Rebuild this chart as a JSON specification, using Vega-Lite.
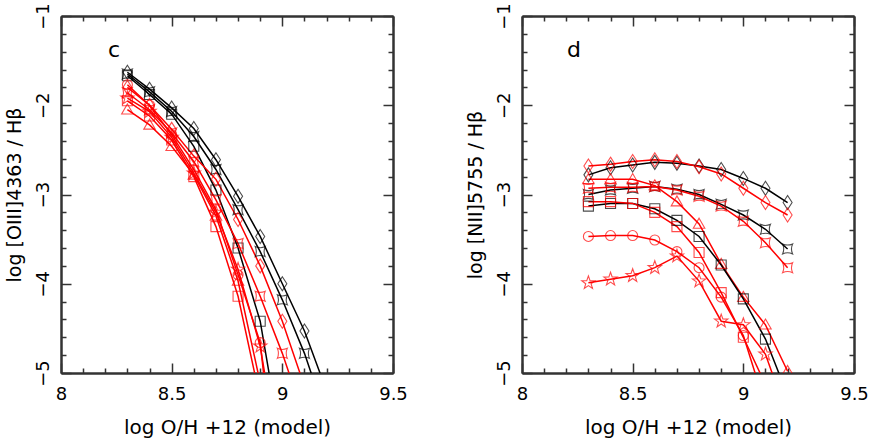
{
  "$schema": "https://vega.github.io/schema/vega-lite/v6.json",
  "padding": {"left": 5, "top": 2, "right": 5, "bottom": 3},
  "spacing": 58,
  "config": {
    "view": {"stroke": null},
    "font": "DejaVu Sans",
    "axis": {
      "labelFont": "DejaVu Sans", "titleFont": "DejaVu Sans",
      "labelFontSize": 18, "titleFontSize": 20, "titleFontWeight": "normal",
      "labelColor": "#000", "titleColor": "#000",
      "domainColor": "#333", "tickColor": "#333", "domainWidth": 2, "tickWidth": 1.5,
      "grid": false, "labelFlush": false, "labelOverlap": false, "labelBound": false
    }
  },
  "datasets": {
    "c": [
      {"s":"BD","x":8.3,"y":-1.63},{"s":"BD","x":8.4,"y":-1.82},{"s":"BD","x":8.5,"y":-2.03},{"s":"BD","x":8.6,"y":-2.26},{"s":"BD","x":8.7,"y":-2.61},{"s":"BD","x":8.8,"y":-3.02},{"s":"BD","x":8.9,"y":-3.47},{"s":"BD","x":9.0,"y":-4.0},{"s":"BD","x":9.1,"y":-4.53},{"s":"BD","x":9.2,"y":-5.2},
      {"s":"BH","x":8.3,"y":-1.65},{"s":"BH","x":8.4,"y":-1.85},{"s":"BH","x":8.5,"y":-2.07},{"s":"BH","x":8.6,"y":-2.35},{"s":"BH","x":8.7,"y":-2.72},{"s":"BH","x":8.8,"y":-3.17},{"s":"BH","x":8.9,"y":-3.64},{"s":"BH","x":9.0,"y":-4.18},{"s":"BH","x":9.1,"y":-4.78},{"s":"BH","x":9.2,"y":-5.51},
      {"s":"BS","x":8.3,"y":-1.67},{"s":"BS","x":8.4,"y":-1.88},{"s":"BS","x":8.5,"y":-2.1},{"s":"BS","x":8.6,"y":-2.46},{"s":"BS","x":8.7,"y":-2.95},{"s":"BS","x":8.8,"y":-3.6},{"s":"BS","x":8.9,"y":-4.42},{"s":"BS","x":9.0,"y":-5.87},
      {"s":"RD","x":8.3,"y":-1.8},{"s":"RD","x":8.4,"y":-2.0},{"s":"RD","x":8.5,"y":-2.27},{"s":"RD","x":8.6,"y":-2.57},{"s":"RD","x":8.7,"y":-2.83},{"s":"RD","x":8.8,"y":-3.28},{"s":"RD","x":8.9,"y":-3.8},{"s":"RD","x":9.0,"y":-4.42},{"s":"RD","x":9.1,"y":-5.15},
      {"s":"RH","x":8.3,"y":-1.86},{"s":"RH","x":8.4,"y":-2.05},{"s":"RH","x":8.5,"y":-2.31},{"s":"RH","x":8.6,"y":-2.63},{"s":"RH","x":8.7,"y":-3.06},{"s":"RH","x":8.8,"y":-3.55},{"s":"RH","x":8.9,"y":-4.14},{"s":"RH","x":9.0,"y":-4.78},{"s":"RH","x":9.1,"y":-5.51},
      {"s":"RC","x":8.3,"y":-1.77},{"s":"RC","x":8.4,"y":-2.0},{"s":"RC","x":8.5,"y":-2.33},{"s":"RC","x":8.6,"y":-2.72},{"s":"RC","x":8.7,"y":-3.17},{"s":"RC","x":8.8,"y":-3.9},{"s":"RC","x":8.9,"y":-4.66},{"s":"RC","x":9.0,"y":-6.9},
      {"s":"RX","x":8.3,"y":-1.92},{"s":"RX","x":8.4,"y":-2.07},{"s":"RX","x":8.5,"y":-2.36},{"s":"RX","x":8.6,"y":-2.76},{"s":"RX","x":8.7,"y":-3.2},{"s":"RX","x":8.8,"y":-3.84},{"s":"RX","x":8.9,"y":-4.7},{"s":"RX","x":9.0,"y":-6.2},
      {"s":"RS","x":8.3,"y":-1.95},{"s":"RS","x":8.4,"y":-2.12},{"s":"RS","x":8.5,"y":-2.39},{"s":"RS","x":8.6,"y":-2.8},{"s":"RS","x":8.7,"y":-3.36},{"s":"RS","x":8.8,"y":-4.14},{"s":"RS","x":8.9,"y":-5.29},
      {"s":"RT","x":8.3,"y":-2.05},{"s":"RT","x":8.4,"y":-2.22},{"s":"RT","x":8.5,"y":-2.46},{"s":"RT","x":8.6,"y":-2.78},{"s":"RT","x":8.7,"y":-3.24},{"s":"RT","x":8.8,"y":-3.97},{"s":"RT","x":8.9,"y":-5.11}
    ],
    "d": [
      {"s":"BD","x":8.3,"y":-2.78},{"s":"BD","x":8.4,"y":-2.7},{"s":"BD","x":8.5,"y":-2.67},{"s":"BD","x":8.6,"y":-2.64},{"s":"BD","x":8.7,"y":-2.65},{"s":"BD","x":8.8,"y":-2.68},{"s":"BD","x":8.9,"y":-2.72},{"s":"BD","x":9.0,"y":-2.82},{"s":"BD","x":9.1,"y":-2.93},{"s":"BD","x":9.2,"y":-3.09},
      {"s":"RD","x":8.3,"y":-2.68},{"s":"RD","x":8.4,"y":-2.66},{"s":"RD","x":8.5,"y":-2.63},{"s":"RD","x":8.6,"y":-2.61},{"s":"RD","x":8.7,"y":-2.63},{"s":"RD","x":8.8,"y":-2.69},{"s":"RD","x":8.9,"y":-2.77},{"s":"RD","x":9.0,"y":-2.93},{"s":"RD","x":9.1,"y":-3.09},{"s":"RD","x":9.2,"y":-3.23},
      {"s":"BH","x":8.3,"y":-3.0},{"s":"BH","x":8.4,"y":-2.95},{"s":"BH","x":8.5,"y":-2.93},{"s":"BH","x":8.6,"y":-2.91},{"s":"BH","x":8.7,"y":-2.94},{"s":"BH","x":8.8,"y":-3.0},{"s":"BH","x":8.9,"y":-3.11},{"s":"BH","x":9.0,"y":-3.23},{"s":"BH","x":9.1,"y":-3.39},{"s":"BH","x":9.2,"y":-3.61},
      {"s":"RH","x":8.3,"y":-2.93},{"s":"RH","x":8.4,"y":-2.92},{"s":"RH","x":8.5,"y":-2.92},{"s":"RH","x":8.6,"y":-2.91},{"s":"RH","x":8.7,"y":-2.95},{"s":"RH","x":8.8,"y":-3.02},{"s":"RH","x":8.9,"y":-3.13},{"s":"RH","x":9.0,"y":-3.3},{"s":"RH","x":9.1,"y":-3.54},{"s":"RH","x":9.2,"y":-3.82},
      {"s":"RT","x":8.3,"y":-2.83},{"s":"RT","x":8.4,"y":-2.83},{"s":"RT","x":8.5,"y":-2.83},{"s":"RT","x":8.6,"y":-2.9},{"s":"RT","x":8.7,"y":-3.08},{"s":"RT","x":8.8,"y":-3.33},{"s":"RT","x":8.9,"y":-3.78},{"s":"RT","x":9.0,"y":-4.15},{"s":"RT","x":9.1,"y":-4.46},{"s":"RT","x":9.2,"y":-4.98},
      {"s":"BS","x":8.3,"y":-3.13},{"s":"BS","x":8.4,"y":-3.1},{"s":"BS","x":8.5,"y":-3.1},{"s":"BS","x":8.6,"y":-3.16},{"s":"BS","x":8.7,"y":-3.29},{"s":"BS","x":8.8,"y":-3.47},{"s":"BS","x":8.9,"y":-3.79},{"s":"BS","x":9.0,"y":-4.17},{"s":"BS","x":9.1,"y":-4.62},{"s":"BS","x":9.2,"y":-5.25},
      {"s":"RS","x":8.3,"y":-3.08},{"s":"RS","x":8.4,"y":-3.08},{"s":"RS","x":8.5,"y":-3.1},{"s":"RS","x":8.6,"y":-3.2},{"s":"RS","x":8.7,"y":-3.36},{"s":"RS","x":8.8,"y":-3.65},{"s":"RS","x":8.9,"y":-4.1},{"s":"RS","x":9.0,"y":-4.6},{"s":"RS","x":9.1,"y":-5.13},
      {"s":"RC","x":8.3,"y":-3.47},{"s":"RC","x":8.4,"y":-3.46},{"s":"RC","x":8.5,"y":-3.46},{"s":"RC","x":8.6,"y":-3.51},{"s":"RC","x":8.7,"y":-3.64},{"s":"RC","x":8.8,"y":-3.82},{"s":"RC","x":8.9,"y":-4.15},{"s":"RC","x":9.0,"y":-4.58},{"s":"RC","x":9.1,"y":-5.37},
      {"s":"RX","x":8.3,"y":-3.99},{"s":"RX","x":8.4,"y":-3.95},{"s":"RX","x":8.5,"y":-3.91},{"s":"RX","x":8.6,"y":-3.82},{"s":"RX","x":8.7,"y":-3.69},{"s":"RX","x":8.8,"y":-3.97},{"s":"RX","x":8.9,"y":-4.42},{"s":"RX","x":9.0,"y":-4.46},{"s":"RX","x":9.1,"y":-4.79},{"s":"RX","x":9.2,"y":-5.49}
    ]
  },
  "hconcat": [
    {
      "width": 332, "height": 357,
      "data": {"name": "c"},
      "resolve": {"axis": {"x": "independent", "y": "independent"}},
      "layer": [
        {
          "mark": {"type": "line", "clip": true, "strokeWidth": 1.5},
          "encoding": {
            "x": {"field": "x", "type": "quantitative",
              "scale": {"domain": [8, 9.5], "nice": false, "zero": false},
              "axis": {"orient": "bottom", "title": "log O/H +12 (model)", "format": "~g",
                "values": [8, 8.5, 9, 9.5], "tickSize": -10, "labelPadding": 22, "titlePadding": 14}},
            "y": {"field": "y", "type": "quantitative",
              "scale": {"domain": [-5, -1], "nice": false, "zero": false},
              "axis": {"orient": "left", "title": "log [OIII]4363 / Hβ", "format": "~g", "titleFontSize": 19,
                "values": [-5, -4, -3, -2, -1], "tickSize": -10,
                "labelAngle": -90, "labelAlign": "center", "labelBaseline": "alphabetic",
                "labelPadding": 23, "titlePadding": 10}},
            "color": {"field": "s", "type": "nominal", "legend": null,
              "scale": {"domain": ["BD","BH","BS","RD","RH","RS","RT","RC","RX"],
                "range": ["#000000","#000000","#000000","#ff0000","#ff0000","#ff0000","#ff0000","#ff0000","#ff0000"]}},
            "detail": {"field": "s"}
          }
        },
        {
          "mark": {"type": "point", "clip": true, "filled": false, "size": 100, "strokeWidth": 1.1},
          "encoding": {
            "x": {"field": "x", "type": "quantitative",
              "scale": {"domain": [8, 9.5], "nice": false, "zero": false},
              "axis": {"orient": "bottom", "title": null, "labels": false, "tickSize": -5,
                "values": [8.1,8.2,8.3,8.4,8.6,8.7,8.8,8.9,9.1,9.2,9.3,9.4]}},
            "y": {"field": "y", "type": "quantitative",
              "scale": {"domain": [-5, -1], "nice": false, "zero": false},
              "axis": {"orient": "left", "title": null, "labels": false, "tickSize": -5,
                "values": [-4.8,-4.6,-4.4,-4.2,-3.8,-3.6,-3.4,-3.2,-2.8,-2.6,-2.4,-2.2,-1.8,-1.6,-1.4,-1.2]}},
            "color": {"field": "s", "type": "nominal", "legend": null,
              "scale": {"domain": ["BD","BH","BS","RD","RH","RS","RT","RC","RX"],
                "range": ["#000000","#000000","#000000","#ff0000","#ff0000","#ff0000","#ff0000","#ff0000","#ff0000"]}},
            "shape": {"field": "s", "type": "nominal", "legend": null,
              "scale": {"domain": ["BD","BH","BS","RD","RH","RS","RT","RC","RX"],
                "range": ["M0,-1.4L0.9,0L0,1.4L-0.9,0Z","M-1,-1Q0,-0.55 1,-1Q0.55,0 1,1Q0,0.55 -1,1Q-0.55,0 -1,-1Z","square","M0,-1.4L0.9,0L0,1.4L-0.9,0Z","M-1,-1Q0,-0.55 1,-1Q0.55,0 1,1Q0,0.55 -1,1Q-0.55,0 -1,-1Z","square","M0,-1.15L1.15,0.85L-1.15,0.85Z","circle","M0,-1.4L0.33,-0.45L1.33,-0.43L0.53,0.17L0.82,1.13L0,0.56L-0.82,1.13L-0.53,0.17L-1.33,-0.43L-0.33,-0.45Z"]}}
          }
        },
        {
          "data": {"values": [{"x": 8.24, "y": -1.38, "t": "c"}]},
          "mark": {"type": "text", "fontSize": 22, "font": "DejaVu Sans", "color": "#000"},
          "encoding": {
            "x": {"field": "x", "type": "quantitative", "scale": {"domain": [8, 9.5], "nice": false, "zero": false},
              "axis": {"orient": "top", "title": null, "labels": false, "tickSize": -10, "values": [8, 8.5, 9, 9.5]}},
            "y": {"field": "y", "type": "quantitative", "scale": {"domain": [-5, -1], "nice": false, "zero": false},
              "axis": {"orient": "right", "title": null, "labels": false, "tickSize": -10, "values": [-5, -4, -3, -2, -1]}},
            "text": {"field": "t"}
          }
        },
        {
          "data": {"values": [{"x": 8.24, "y": -1.38, "t": "c"}]},
          "mark": {"type": "point", "opacity": 0},
          "encoding": {
            "x": {"field": "x", "type": "quantitative", "scale": {"domain": [8, 9.5], "nice": false, "zero": false},
              "axis": {"orient": "top", "title": null, "labels": false, "tickSize": -5,
                "values": [8.1,8.2,8.3,8.4,8.6,8.7,8.8,8.9,9.1,9.2,9.3,9.4]}},
            "y": {"field": "y", "type": "quantitative", "scale": {"domain": [-5, -1], "nice": false, "zero": false},
              "axis": {"orient": "right", "title": null, "labels": false, "tickSize": -5,
                "values": [-4.8,-4.6,-4.4,-4.2,-3.8,-3.6,-3.4,-3.2,-2.8,-2.6,-2.4,-2.2,-1.8,-1.6,-1.4,-1.2]}}
          }
        }
      ]
    },
    {
      "width": 332, "height": 357,
      "data": {"name": "d"},
      "resolve": {"axis": {"x": "independent", "y": "independent"}},
      "layer": [
        {
          "mark": {"type": "line", "clip": true, "strokeWidth": 1.5},
          "encoding": {
            "x": {"field": "x", "type": "quantitative",
              "scale": {"domain": [8, 9.5], "nice": false, "zero": false},
              "axis": {"orient": "bottom", "title": "log O/H +12 (model)", "format": "~g",
                "values": [8, 8.5, 9, 9.5], "tickSize": -10, "labelPadding": 22, "titlePadding": 14}},
            "y": {"field": "y", "type": "quantitative",
              "scale": {"domain": [-5, -1], "nice": false, "zero": false},
              "axis": {"orient": "left", "title": "log [NII]5755 / Hβ", "format": "~g", "titleFontSize": 19,
                "values": [-5, -4, -3, -2, -1], "tickSize": -10,
                "labelAngle": -90, "labelAlign": "center", "labelBaseline": "alphabetic",
                "labelPadding": 23, "titlePadding": 10}},
            "color": {"field": "s", "type": "nominal", "legend": null,
              "scale": {"domain": ["BD","BH","BS","RD","RH","RS","RT","RC","RX"],
                "range": ["#000000","#000000","#000000","#ff0000","#ff0000","#ff0000","#ff0000","#ff0000","#ff0000"]}},
            "detail": {"field": "s"}
          }
        },
        {
          "mark": {"type": "point", "clip": true, "filled": false, "size": 100, "strokeWidth": 1.1},
          "encoding": {
            "x": {"field": "x", "type": "quantitative",
              "scale": {"domain": [8, 9.5], "nice": false, "zero": false},
              "axis": {"orient": "bottom", "title": null, "labels": false, "tickSize": -5,
                "values": [8.1,8.2,8.3,8.4,8.6,8.7,8.8,8.9,9.1,9.2,9.3,9.4]}},
            "y": {"field": "y", "type": "quantitative",
              "scale": {"domain": [-5, -1], "nice": false, "zero": false},
              "axis": {"orient": "left", "title": null, "labels": false, "tickSize": -5,
                "values": [-4.8,-4.6,-4.4,-4.2,-3.8,-3.6,-3.4,-3.2,-2.8,-2.6,-2.4,-2.2,-1.8,-1.6,-1.4,-1.2]}},
            "color": {"field": "s", "type": "nominal", "legend": null,
              "scale": {"domain": ["BD","BH","BS","RD","RH","RS","RT","RC","RX"],
                "range": ["#000000","#000000","#000000","#ff0000","#ff0000","#ff0000","#ff0000","#ff0000","#ff0000"]}},
            "shape": {"field": "s", "type": "nominal", "legend": null,
              "scale": {"domain": ["BD","BH","BS","RD","RH","RS","RT","RC","RX"],
                "range": ["M0,-1.4L0.9,0L0,1.4L-0.9,0Z","M-1,-1Q0,-0.55 1,-1Q0.55,0 1,1Q0,0.55 -1,1Q-0.55,0 -1,-1Z","square","M0,-1.4L0.9,0L0,1.4L-0.9,0Z","M-1,-1Q0,-0.55 1,-1Q0.55,0 1,1Q0,0.55 -1,1Q-0.55,0 -1,-1Z","square","M0,-1.15L1.15,0.85L-1.15,0.85Z","circle","M0,-1.4L0.33,-0.45L1.33,-0.43L0.53,0.17L0.82,1.13L0,0.56L-0.82,1.13L-0.53,0.17L-1.33,-0.43L-0.33,-0.45Z"]}}
          }
        },
        {
          "data": {"values": [{"x": 8.235, "y": -1.38, "t": "d"}]},
          "mark": {"type": "text", "fontSize": 22, "font": "DejaVu Sans", "color": "#000"},
          "encoding": {
            "x": {"field": "x", "type": "quantitative", "scale": {"domain": [8, 9.5], "nice": false, "zero": false},
              "axis": {"orient": "top", "title": null, "labels": false, "tickSize": -10, "values": [8, 8.5, 9, 9.5]}},
            "y": {"field": "y", "type": "quantitative", "scale": {"domain": [-5, -1], "nice": false, "zero": false},
              "axis": {"orient": "right", "title": null, "labels": false, "tickSize": -10, "values": [-5, -4, -3, -2, -1]}},
            "text": {"field": "t"}
          }
        },
        {
          "data": {"values": [{"x": 8.235, "y": -1.38, "t": "d"}]},
          "mark": {"type": "point", "opacity": 0},
          "encoding": {
            "x": {"field": "x", "type": "quantitative", "scale": {"domain": [8, 9.5], "nice": false, "zero": false},
              "axis": {"orient": "top", "title": null, "labels": false, "tickSize": -5,
                "values": [8.1,8.2,8.3,8.4,8.6,8.7,8.8,8.9,9.1,9.2,9.3,9.4]}},
            "y": {"field": "y", "type": "quantitative", "scale": {"domain": [-5, -1], "nice": false, "zero": false},
              "axis": {"orient": "right", "title": null, "labels": false, "tickSize": -5,
                "values": [-4.8,-4.6,-4.4,-4.2,-3.8,-3.6,-3.4,-3.2,-2.8,-2.6,-2.4,-2.2,-1.8,-1.6,-1.4,-1.2]}}
          }
        }
      ]
    }
  ]
}
